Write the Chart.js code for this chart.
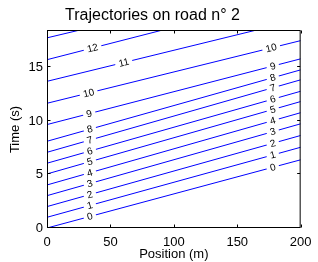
<!DOCTYPE html>
<html><head><meta charset="utf-8">
<script src="https://cdn.jsdelivr.net/npm/chart.js@4/dist/chart.umd.min.js"></script>
<style>html,body{margin:0;padding:0;background:#fff;}</style>
</head><body>
<canvas id="c" width="318" height="262" style="display:block;width:318px;height:262px"></canvas>
<script>
// ---- data ----
const trajectoryNames = ['0','1','2','3','4','5','6','7','8','9','10','11','12','13'];
const roadStart = 0;      // m
const roadEnd = 200;      // m
const startTimes = [0, 1.0, 2.0, 3.02, 4.02, 5.05, 6.05, 7.07, 8.1, 9.66, 11.65, 13.7, 15.72, 17.76]; // s at x=0
const endTimes   = [6.37, 7.54, 8.64, 9.73, 10.77, 11.81, 12.77, 13.84, 14.77, 15.8, 17.5, 19.5, 21.8, 23.4]; // s at x=200
const xTickValues = [0, 50, 100, 150, 200];
const yTickValues = [0, 5, 10, 15];
const timeMax = 18.4;

const FONT = '"Liberation Sans", Arial, Helvetica, sans-serif';

const datasets = trajectoryNames.map((name, i) => ({
  label: name,
  data: [{x: roadStart, y: startTimes[i]}, {x: roadEnd, y: endTimes[i]}],
  borderColor: '#0000ff',
  borderWidth: 1,
  pointRadius: 0,
  tension: 0,
  fill: false
}));

// label placement along each trajectory (position in m), kept in plugin options
const labelPlaces = [
  [33.8, 178], [33.8, 178], [33.8, 178], [33.8, 178], [33.8, 178],
  [33.8, 178], [33.8, 178], [33.8, 178], [33.8, 178], [33.3, 178],
  [32.8, 176.8], [60.5], [35.9], []
];

const contourLabels = {
  id: 'contourLabels',
  afterDatasetsDraw(chart, args, opts) {
    const ctx = chart.ctx, xs = chart.scales.x, ys = chart.scales.y;
    chart.data.datasets.forEach((ds, i) => {
      const p0 = ds.data[0], p1 = ds.data[1];
      const ang = Math.atan2(ys.getPixelForValue(p1.y) - ys.getPixelForValue(p0.y),
                             xs.getPixelForValue(p1.x) - xs.getPixelForValue(p0.x));
      (opts.places[i] || []).forEach(px => {
        const t = p0.y + (p1.y - p0.y) * (px - p0.x) / (p1.x - p0.x);
        const X = xs.getPixelForValue(px), Y = ys.getPixelForValue(t);
        ctx.save();
        ctx.translate(X, Y);
        ctx.rotate(ang);
        ctx.font = '10px ' + FONT;
        const w = ctx.measureText(ds.label).width;
        ctx.fillStyle = '#ffffff';
        ctx.fillRect(-w / 2 - 3.5, -3, w + 7, 6);
        ctx.fillStyle = '#000000';
        ctx.textAlign = 'center';
        ctx.textBaseline = 'middle';
        ctx.fillText(ds.label, 0, 0.5);
        ctx.restore();
      });
    });
  }
};

const frameTicks = {
  id: 'frameTicks',
  afterDatasetsDraw(chart) {
    const ctx = chart.ctx, a = chart.chartArea, xs = chart.scales.x, ys = chart.scales.y;
    ctx.save();
    ctx.strokeStyle = '#000';
    ctx.lineWidth = 1;
    ctx.strokeRect(a.left + 0.5, a.top - 0.5, a.right - a.left - 1, a.bottom - a.top);
    ctx.beginPath();
    const L = 3;
    xTickValues.forEach(v => {
      const X = Math.round(xs.getPixelForValue(v)) + 0.5;
      ctx.moveTo(X, a.bottom - 0.5); ctx.lineTo(X, a.bottom - 0.5 - L);
      ctx.moveTo(X, a.top - 0.5); ctx.lineTo(X, a.top - 0.5 + L);
    });
    yTickValues.forEach(v => {
      const Y = Math.round(ys.getPixelForValue(v)) - 0.5;
      ctx.moveTo(a.left + 0.5, Y); ctx.lineTo(a.left + 0.5 + L, Y);
      ctx.moveTo(a.right - 0.5, Y); ctx.lineTo(a.right - 0.5 - L, Y);
    });
    ctx.stroke();
    ctx.restore();
  }
};

new Chart(document.getElementById('c'), {
  type: 'line',
  data: { datasets },
  plugins: [contourLabels, frameTicks],
  options: {
    responsive: false,
    devicePixelRatio: 1,
    animation: false,
    layout: { padding: { left: 0, right: 13, top: 0, bottom: 0 } },
    plugins: {
      legend: { display: false },
      tooltip: { enabled: false },
      title: {
        display: true,
        text: 'Trajectories on road n° 2',
        color: '#000',
        font: { family: FONT, size: 16, weight: 'normal', lineHeight: 1.2 },
        padding: { top: 5.5, bottom: 6.3 }
      },
      contourLabels: { places: labelPlaces }
    },
    scales: {
      x: {
        type: 'linear', min: roadStart, max: roadEnd,
        afterBuildTicks: s => { s.ticks = xTickValues.map(v => ({ value: v })); },
        afterFit: s => { s.height = 34; },
        grid: { display: false, drawTicks: false },
        border: { display: false },
        ticks: { color: '#000', padding: 6.5, maxRotation: 0, font: { family: FONT, size: 13 } },
        title: { display: true, text: 'Position (m)', color: '#000', padding: 0,
                 font: { family: FONT, size: 13 } }
      },
      y: {
        type: 'linear', min: 0, max: timeMax,
        afterBuildTicks: s => { s.ticks = yTickValues.map(v => ({ value: v })); },
        afterFit: s => { s.width = 47; },
        grid: { display: false, drawTicks: false },
        border: { display: false },
        ticks: { color: '#000', padding: 4, font: { family: FONT, size: 13 } },
        title: { display: true, text: 'Time (s)', color: '#000', padding: 7.5,
                 font: { family: FONT, size: 13 } }
      }
    }
  }
});
</script>
</body></html>
